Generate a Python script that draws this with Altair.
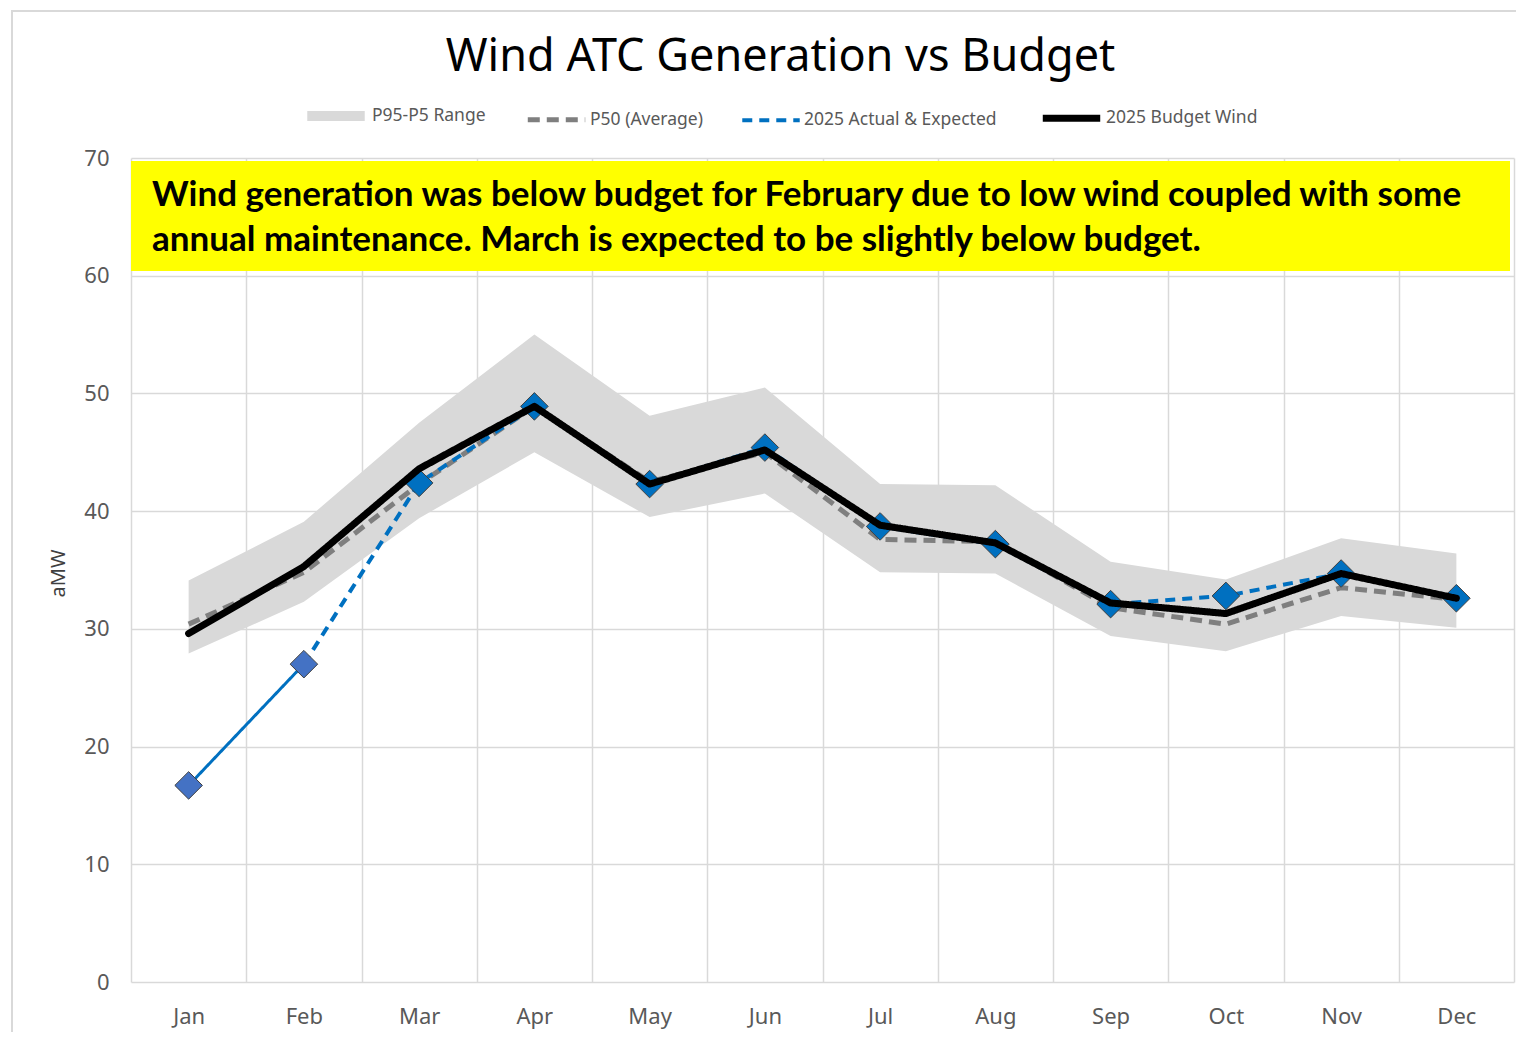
import altair as alt
import pandas as pd

months = ["Jan", "Feb", "Mar", "Apr", "May", "Jun", "Jul", "Aug", "Sep", "Oct", "Nov", "Dec"]
p95 = [34.1, 39.1, 47.5, 55.0, 48.1, 50.5, 42.3, 42.2, 35.7, 34.2, 37.7, 36.4]
p5 = [27.9, 32.3, 39.4, 45.0, 39.5, 41.5, 34.8, 34.7, 29.4, 28.1, 31.1, 30.1]
p50 = [30.4, 34.8, 42.3, 48.9, 42.5, 45.0, 37.6, 37.4, 31.8, 30.4, 33.5, 32.5]
actual = [16.7, 27.0, 42.4, 48.9, 42.3, 45.4, 38.7, 37.2, 32.1, 32.8, 34.7, 32.6]
budget = [29.6, 35.3, 43.6, 48.9, 42.3, 45.2, 38.8, 37.3, 32.2, 31.3, 34.7, 32.6]
n_actual = 2

series_names = ["P95-P5 Range", "P50 (Average)", "2025 Actual & Expected", "2025 Budget Wind"]
series_colors = ["#D9D9D9", "#7F7F7F", "#0070C0", "#000000"]
series_dashes = [[1, 0], [12, 7], [10, 7], [1, 0]]
series_widths = [10, 5, 4, 7]
kind_names = ["Actual", "Expected"]
kind_colors = ["#4472C4", "#0070C0"]

title_text = "Wind ATC Generation vs Budget"
note_lines = [
    "Wind generation was below budget for February due to low wind coupled with some",
    "annual maintenance. March is expected to be slightly below budget.",
]
y_ticks = [0, 10, 20, 30, 40, 50, 60, 70]

W, H = 1383, 824
FONT = "Noto Sans"

band_df = pd.DataFrame({"month": months, "lo": p5, "hi": p95, "series": series_names[0]})
p50_df = pd.DataFrame({"month": months, "value": p50, "series": series_names[1]})
act_df = pd.DataFrame({
    "month": months, "value": actual, "series": series_names[2],
    "kind": [kind_names[0]] * n_actual + [kind_names[1]] * (len(months) - n_actual),
})
bud_df = pd.DataFrame({"month": months, "value": budget, "series": series_names[3]})

x_axis = alt.Axis(title=None, tickBand="extent", grid=True, gridColor="#D9D9D9", gridWidth=1.5,
                  domain=False, ticks=False, labelFontSize=22, labelColor="#595959", labelFont=FONT,
                  labelPadding=24, labelAngle=0)
y_axis = alt.Axis(title="aMW", values=y_ticks, grid=True, gridColor="#D9D9D9", gridWidth=1.5,
                  domain=False, ticks=False, labelFontSize=22, labelColor="#595959", labelFont=FONT,
                  labelPadding=22, titleFont=FONT, titleFontSize=20, titleColor="#404040",
                  titleFontWeight="normal", titleX=-63, titleY=415)
x_scale = alt.Scale(type="band", paddingInner=0, paddingOuter=0)
y_scale = alt.Scale(domain=[0, 70], nice=False)


def X():
    return alt.X("month:N", sort=months, scale=x_scale, axis=x_axis)


def Y(field):
    return alt.Y(f"{field}:Q", scale=y_scale, axis=y_axis)


legend = alt.Legend(
    title=None, orient="none", legendX=171, legendY=-76, direction="horizontal",
    symbolType="stroke", symbolSize=3300, labelFontSize=17.5, labelFont=FONT, labelLimit=400,
    labelColor="#595959", columnPadding=31, labelOffset=2, symbolOpacity=1,
)
color = alt.Color("series:N", scale=alt.Scale(domain=series_names, range=series_colors), legend=legend)
dash = alt.StrokeDash("series:N", scale=alt.Scale(domain=series_names, range=series_dashes), legend=legend)
width = alt.StrokeWidth("series:N", scale=alt.Scale(type="ordinal", domain=series_names, range=series_widths),
                        legend=legend)

area = alt.Chart(band_df).mark_area(opacity=1).encode(
    x=X(), y=Y("lo"), y2="hi", color=color, strokeDash=dash, strokeWidth=width)
p50_line = alt.Chart(p50_df).mark_line().encode(
    x=X(), y=Y("value"), color=color, strokeDash=dash, strokeWidth=width)
act_solid = alt.Chart(act_df.iloc[:n_actual]).mark_line().encode(
    x=X(), y=Y("value"), color=color, strokeDash=alt.value([1, 0]), strokeWidth=alt.value(3))
act_dash = alt.Chart(act_df.iloc[n_actual - 1:]).mark_line().encode(
    x=X(), y=Y("value"), color=color, strokeDash=dash, strokeWidth=width)
points = alt.Chart(act_df).mark_point(shape="diamond", filled=True, size=760, stroke="#404040",
                                      strokeWidth=1, opacity=1).encode(
    x=X(), y=Y("value"),
    fill=alt.Fill("kind:N", scale=alt.Scale(domain=kind_names, range=kind_colors), legend=None))
bud_line = alt.Chart(bud_df).mark_line(strokeJoin="round", strokeCap="round").encode(
    x=X(), y=Y("value"), color=color, strokeDash=dash, strokeWidth=width)

note_df = pd.DataFrame({"note": ["\n".join(note_lines)]})
box = alt.Chart(note_df).mark_rect(color="#FFFF00").encode(
    x=alt.value(0), x2=alt.value(W - 4), y=alt.value(3), y2=alt.value(113))
note = alt.Chart(note_df).mark_text(align="left", baseline="middle", font="Lato", fontWeight="bold",
                                    fontSize=35, lineBreak="\n", lineHeight=45, color="#000000").encode(
    x=alt.value(21), y=alt.value(37), text="note:N")
frame = alt.Chart(note_df).mark_rect(fill=None, stroke="#D9D9D9", strokeWidth=2).encode(
    x=alt.value(-119), x2=alt.value(W + 20), y=alt.value(-147), y2=alt.value(H + 80))

chart = alt.layer(frame, area, p50_line, act_solid, act_dash, points, bud_line, box, note).properties(
    width=W, height=H,
    title=alt.TitleParams(title_text, fontSize=45, font=FONT, fontWeight="normal", color="#000000",
                          anchor="middle", dx=-42, dy=74),
    padding={"left": 123, "top": 150, "right": 2, "bottom": 50},
    autosize=alt.AutoSizeParams(type="none"),
).configure_view(stroke=None)

chart.save("out.html", embed_options={"renderer": "svg", "actions": False})
